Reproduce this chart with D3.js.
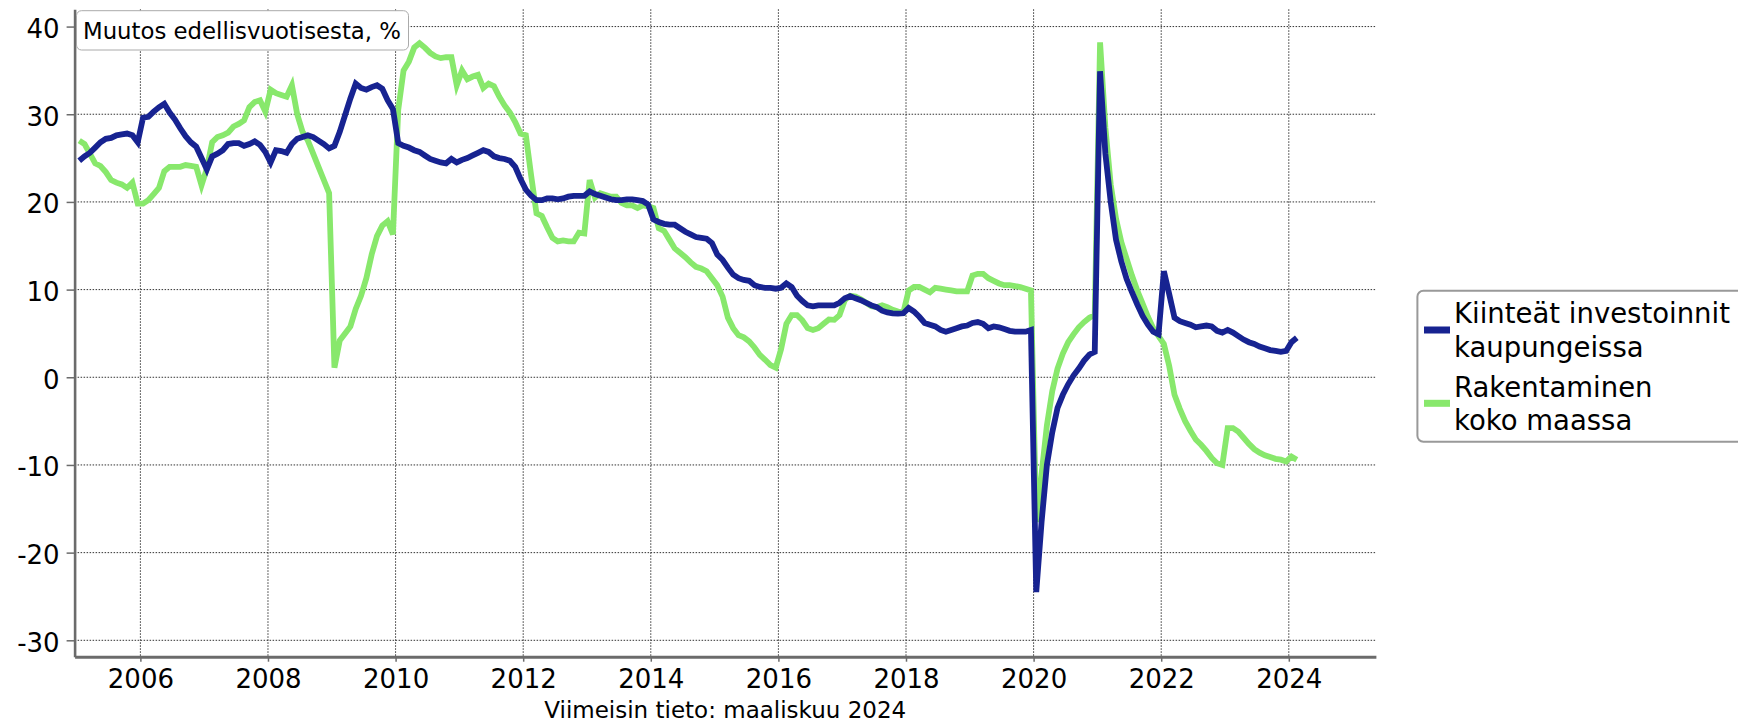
<!DOCTYPE html>
<html>
<head>
<meta charset="utf-8">
<script src="https://cdn.jsdelivr.net/npm/d3@7"></script>
<style>
  html, body { margin: 0; padding: 0; background: #fff; }
  svg { display: block; font-family: "DejaVu Sans", Verdana, sans-serif; }
</style>
</head>
<body>
<svg id="chart" width="1738" height="723"></svg>
<script>
// ---------- DATA ----------
const startYear = 2005;          // first month: January 2005 (monthly series)
const seriesNames = ["Kiinteät investoinnit kaupungeissa", "Rakentaminen koko maassa"];
const legendLines = [["Kiinteät investoinnit", "kaupungeissa"], ["Rakentaminen", "koko maassa"]];
const titleText = "Muutos edellisvuotisesta, %";
const footerText = "Viimeisin tieto: maaliskuu 2024";
const xTickYears = [2006, 2008, 2010, 2012, 2014, 2016, 2018, 2020, 2022, 2024];
const yTickValues = [-30, -20, -10, 0, 10, 20, 30, 40];

// Kiinteät investoinnit kaupungeissa (monthly, Jan 2005 ->)
const cityInvest = [
  24.7, 25.2, 25.6, 26.2, 26.8, 27.2, 27.3, 27.6, 27.7, 27.8, 27.6, 26.8,  // 2005
  29.6, 29.7, 30.3, 30.8, 31.2, 30.2, 29.4, 28.4, 27.5, 26.8, 26.3, 25.0,  // 2006
  23.7, 25.2, 25.5, 25.9, 26.6, 26.7, 26.7, 26.4, 26.6, 26.9, 26.5, 25.7,  // 2007
  24.5, 25.9, 25.8, 25.6, 26.6, 27.2, 27.4, 27.6, 27.4, 27.0, 26.6, 26.1,  // 2008
  26.4, 28.0, 29.9, 31.8, 33.5, 33.0, 32.8, 33.1, 33.3, 32.9, 31.6, 30.6,  // 2009
  26.7, 26.4, 26.2, 25.9, 25.7, 25.3, 24.9, 24.7, 24.5, 24.4, 24.9, 24.5,  // 2010
  24.8, 25.0, 25.3, 25.6, 25.9, 25.7, 25.2, 25.0, 24.9, 24.7, 24.0, 22.6,  // 2011
  21.4, 20.7, 20.2, 20.2, 20.4, 20.4, 20.3, 20.4, 20.6, 20.7, 20.7, 20.7,  // 2012
  21.2, 20.9, 20.7, 20.5, 20.3, 20.2, 20.2, 20.3, 20.3, 20.2, 20.1, 19.7,  // 2013
  18.0, 17.7, 17.5, 17.4, 17.4, 17.0, 16.6, 16.3, 16.0, 15.9, 15.8, 15.3,  // 2014
  14.0, 13.4, 12.5, 11.7, 11.3, 11.1, 11.0, 10.5, 10.3, 10.2, 10.2, 10.1,  // 2015
  10.2, 10.7, 10.3,  9.3,  8.7,  8.2,  8.1,  8.2,  8.2,  8.2,  8.2,  8.5,  // 2016
   9.0,  9.25, 9.0,  8.8,  8.5,  8.2,  8.0,  7.6,  7.4,  7.3,  7.25, 7.3,  // 2017
   7.9,  7.5,  6.9,  6.2,  6.0,  5.8,  5.4,  5.2,  5.4,  5.6,  5.8,  5.9,  // 2018
   6.2,  6.3,  6.1,  5.6,  5.8,  5.7,  5.5,  5.3,  5.2,  5.2,  5.2,  5.4,  // 2019
 -24.5, -16.5, -10.0, -6.3, -3.5, -2.0, -0.8, 0.2,  1.0,  1.9,  2.6,  2.9,  // 2020
  34.9, 25.5, 20.0, 15.7, 13.2, 11.2,  9.7,  8.3,  7.0,  6.0,  5.2,  4.9,  // 2021
  12.1,  9.5,  6.8,  6.4,  6.2,  6.0,  5.7,  5.8,  5.9,  5.8,  5.3,  5.1,  // 2022
   5.4,  5.1,  4.7,  4.3,  4.0,  3.8,  3.5,  3.3,  3.1,  3.0,  2.9,  3.0,  // 2023
   4.0,  4.5                                                               // 2024
];

// Rakentaminen koko maassa (monthly, Jan 2005 ->)
const construction = [
  27.0, 26.6, 25.5, 24.4, 24.1, 23.4, 22.5, 22.2, 22.0, 21.6, 22.2, 19.8,  // 2005
  19.8, 20.2, 20.9, 21.6, 23.5, 24.0, 24.0, 24.0, 24.2, 24.1, 24.0, 21.9,  // 2006
  23.8, 26.8, 27.4, 27.6, 27.9, 28.6, 28.9, 29.3, 30.8, 31.4, 31.6, 30.3,  // 2007
  32.8, 32.4, 32.2, 32.0, 33.3, 30.0, 28.0, 27.0, 25.5, 24.0, 22.5, 21.0,  // 2008
   1.1,  4.2,  5.0,  5.8,  7.8,  9.3, 11.3, 14.0, 16.1, 17.3, 17.8, 16.3,  // 2009
  30.5, 35.0, 36.0, 37.6, 38.1, 37.6, 37.0, 36.6, 36.4, 36.5, 36.5, 33.3,  // 2010
  35.0, 34.0, 34.3, 34.5, 33.0, 33.5, 33.2, 32.0, 31.0, 30.2, 29.1, 27.8,  // 2011
  27.6, 23.0, 18.7, 18.4, 17.1, 15.9, 15.5, 15.6, 15.5, 15.5, 16.5, 16.4,  // 2012
  22.5, 20.5, 21.0, 20.8, 20.6, 20.6, 19.9, 19.6, 19.6, 19.3, 19.6, 19.5,  // 2013
  19.3, 17.0, 16.7, 15.7, 14.7, 14.2, 13.7, 13.1, 12.6, 12.4, 12.1, 11.3,  // 2014
  10.5,  9.2,  6.8,  5.6,  4.8,  4.55, 4.1,  3.4,  2.55, 2.0,  1.4,  1.1,  // 2015
   3.2,  6.1,  7.1,  7.1,  6.5,  5.6,  5.4,  5.6,  6.1,  6.6,  6.55, 7.1,  // 2016
   8.8,  9.3,  9.2,  8.9,  8.5,  8.1,  8.0,  8.2,  8.0,  7.7,  7.5,  7.4,  // 2017
   9.9, 10.3, 10.3, 10.0,  9.7, 10.2, 10.1, 10.0,  9.9,  9.8,  9.8,  9.8,  // 2018
  11.6, 11.8, 11.8, 11.3, 11.0, 10.7, 10.5, 10.5, 10.4, 10.3, 10.1,  9.9,  // 2019
 -16.5, -11.0, -5.5, -1.6, 1.0,  2.7,  4.0,  4.9,  5.7,  6.3,  6.8,  7.1,  // 2020
  38.2, 28.5, 22.0, 18.1, 15.4, 13.5, 11.6,  9.9,  8.4,  6.9,  5.6,  4.7,  // 2021
   3.8,  1.3, -2.0, -3.6, -5.0, -6.1, -7.1, -7.7, -8.4, -9.2, -9.8, -10.0, // 2022
  -5.8, -5.8, -6.2, -6.9, -7.6, -8.2, -8.6, -8.9, -9.1, -9.3, -9.4, -9.6,  // 2023
  -9.05, -9.4                                                              // 2024
];

const colors = ["#172391", "#88e86c"];

// ---------- LAYOUT ----------
const plot = { left: 74.6, right: 1375.9, top: 9.3, bottom: 656.7 };
const svg = d3.select("#chart");

const x = d3.scaleLinear().domain([2004.969, 2025.365]).range([plot.left, plot.right]);
const y = d3.scaleLinear().domain([-31.87, 41.97]).range([plot.bottom, plot.top]);

const monthT = i => startYear + (i + 0.5) / 12;

// gridlines
const grid = svg.append("g").attr("class", "grid");
grid.selectAll("line.h").data(yTickValues).join("line")
  .attr("x1", plot.left).attr("x2", plot.right)
  .attr("y1", d => y(d)).attr("y2", d => y(d))
  .attr("stroke", "#333").attr("stroke-width", 1).attr("stroke-dasharray", "1.5,1.5");
grid.selectAll("line.v").data(xTickYears).join("line")
  .attr("x1", d => x(d)).attr("x2", d => x(d))
  .attr("y1", plot.top).attr("y2", plot.bottom)
  .attr("stroke", "#333").attr("stroke-width", 1).attr("stroke-dasharray", "1.5,1.5");

// lines (green below, blue above)
const line = d3.line().x((d, i) => x(monthT(i))).y(d => y(d));
[construction, cityInvest].forEach((s, k) => {
  svg.append("path").datum(s)
    .attr("d", line)
    .attr("fill", "none")
    .attr("stroke", k === 0 ? colors[1] : colors[0])
    .attr("stroke-width", 5.8);
});

// axes
const axisColor = "#6b6b6b";
const yAxis = svg.append("g").attr("transform", `translate(${plot.left},0)`)
  .call(d3.axisLeft(y).tickValues(yTickValues).tickSize(8).tickSizeOuter(0).tickPadding(7).tickFormat(d => String(d)));
yAxis.select(".domain").attr("stroke", axisColor).attr("stroke-width", 2.6);
yAxis.selectAll(".tick line").attr("stroke", axisColor).attr("stroke-width", 1.5);
yAxis.selectAll(".tick text").attr("font-size", 26).attr("fill", "#000")
  .attr("font-family", "DejaVu Sans").attr("dy", "0.42em");

const xAxis = svg.append("g").attr("transform", `translate(0,${plot.bottom})`)
  .call(d3.axisBottom(x).tickValues(xTickYears).tickSize(5).tickSizeOuter(0).tickPadding(8).tickFormat(d => String(d)));
xAxis.select(".domain").attr("stroke", axisColor).attr("stroke-width", 3);
xAxis.selectAll(".tick line").attr("stroke", axisColor).attr("stroke-width", 1.5);
xAxis.selectAll(".tick text").attr("font-size", 26).attr("fill", "#000")
  .attr("font-family", "DejaVu Sans");

// title box
const tb = svg.append("g");
tb.append("rect").attr("x", 76.5).attr("y", 10.7).attr("width", 332).attr("height", 39.3)
  .attr("rx", 5).attr("fill", "#fff").attr("stroke", "#aaa").attr("stroke-width", 1);
tb.append("text").attr("x", 83).attr("y", 39).attr("font-size", 22.8).attr("fill", "#000").text(titleText);

// footer
svg.append("text").attr("x", (plot.left + plot.right) / 2).attr("y", 718)
  .attr("text-anchor", "middle").attr("font-size", 23).attr("fill", "#000").text(footerText);

// legend
const lg = svg.append("g");
lg.append("rect").attr("x", 1417.4).attr("y", 290.7).attr("width", 330).attr("height", 151)
  .attr("rx", 6).attr("fill", "#fff").attr("stroke", "#999").attr("stroke-width", 2);
const legendRows = [
  { color: colors[0], swatchY: 330, baselines: [323.3, 356.6] },
  { color: colors[1], swatchY: 403.3, baselines: [396.7, 430] }
];
legendRows.forEach((r, k) => {
  lg.append("rect").attr("x", 1424).attr("y", r.swatchY - 3.5).attr("width", 26).attr("height", 7).attr("fill", r.color);
  legendLines[k].forEach((t, j) => {
    lg.append("text").attr("x", 1454).attr("y", r.baselines[j]).attr("font-size", 27.5)
      .attr("fill", "#000").text(t);
  });
});
</script>
</body>
</html>
